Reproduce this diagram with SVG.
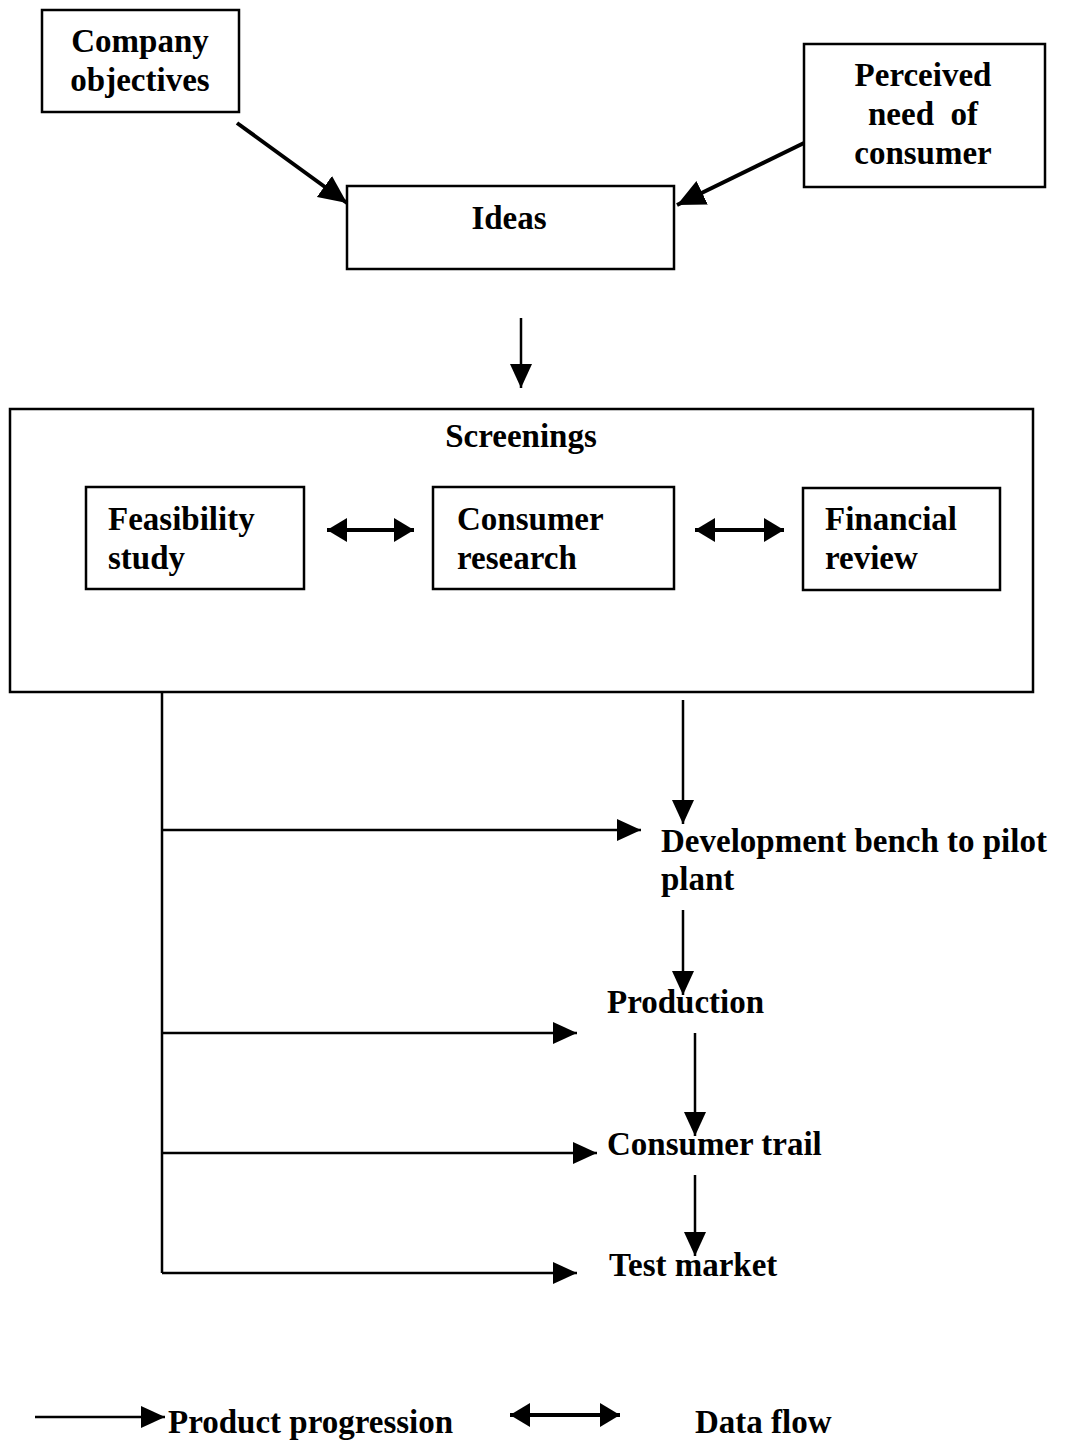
<svg xmlns="http://www.w3.org/2000/svg" width="1065" height="1440" viewBox="0 0 1065 1440">
<defs>
<style>
.box{fill:#fff;stroke:#000;stroke-width:2.5}
.t{font-family:"Liberation Serif","Times New Roman",serif;font-weight:bold;font-size:33px;fill:#000}
.c{text-anchor:middle}
.ln{stroke:#000;stroke-width:2.5;fill:none}
.thick{stroke-width:4}
</style>
<marker id="ah" markerUnits="userSpaceOnUse" markerWidth="26" markerHeight="22" refX="24" refY="11" orient="auto">
<path d="M0,0 L24,11 L0,22 Z" fill="#000"/>
</marker>
<marker id="ahb" markerUnits="userSpaceOnUse" markerWidth="30" markerHeight="26" refX="28" refY="13" orient="auto">
<path d="M0,0 L28,13 L0,26 Z" fill="#000"/>
</marker>
<marker id="ahs" markerUnits="userSpaceOnUse" markerWidth="22" markerHeight="24" refX="20" refY="12" orient="auto-start-reverse">
<path d="M0,0 L20,12 L0,24 Z" fill="#000"/>
</marker>
</defs>
<rect width="1065" height="1440" fill="#fff"/>

<g id="company-objectives">
<rect class="box" x="42" y="10" width="197" height="102"/>
<text class="t c" x="140" y="52">Company</text>
<text class="t c" x="140" y="91">objectives</text>
</g>
<g id="perceived-need">
<rect class="box" x="804" y="44" width="241" height="143"/>
<text class="t c" x="923" y="86">Perceived</text>
<text class="t c" x="923" y="125" xml:space="preserve">need  of</text>
<text class="t c" x="923" y="164">consumer</text>
</g>
<g id="ideas">
<rect class="box" x="347" y="186" width="327" height="83"/>
<text class="t c" x="509" y="229">Ideas</text>
</g>
<g id="screenings">
<rect class="box" x="10" y="409" width="1023" height="283"/>
<text class="t c" x="521" y="447">Screenings</text>
</g>
<g id="feasibility-study">
<rect class="box" x="86" y="487" width="218" height="102"/>
<text class="t" x="108" y="530">Feasibility</text>
<text class="t" x="108" y="569">study</text>
</g>
<g id="consumer-research">
<rect class="box" x="433" y="487" width="241" height="102"/>
<text class="t" x="457" y="530">Consumer</text>
<text class="t" x="457" y="569">research</text>
</g>
<g id="financial-review">
<rect class="box" x="803" y="488" width="197" height="102"/>
<text class="t" x="825" y="530">Financial</text>
<text class="t" x="825" y="569">review</text>
</g>
<g id="development">
<text class="t" x="661" y="852">Development bench to pilot</text>
<text class="t" x="661" y="890">plant</text>
</g>
<g id="production">
<text class="t" x="607" y="1013">Production</text>
</g>
<g id="consumer-trail">
<text class="t" x="607" y="1155">Consumer trail</text>
</g>
<g id="test-market">
<text class="t" x="609" y="1276">Test market</text>
</g>

<g id="connectors">
<line class="ln thick" x1="237" y1="123" x2="347" y2="203" marker-end="url(#ahb)"/>
<line class="ln thick" x1="804" y1="143" x2="677" y2="205" marker-end="url(#ahb)"/>
<line class="ln" x1="521" y1="318" x2="521" y2="388" marker-end="url(#ah)"/>
<line class="ln thick" x1="327" y1="530" x2="414" y2="530" marker-start="url(#ahs)" marker-end="url(#ahs)"/>
<line class="ln thick" x1="695" y1="530" x2="784" y2="530" marker-start="url(#ahs)" marker-end="url(#ahs)"/>
<line class="ln" x1="162" y1="692" x2="162" y2="1273"/>
<line class="ln" x1="162" y1="830" x2="641" y2="830" marker-end="url(#ah)"/>
<line class="ln" x1="162" y1="1033" x2="577" y2="1033" marker-end="url(#ah)"/>
<line class="ln" x1="162" y1="1153" x2="597" y2="1153" marker-end="url(#ah)"/>
<line class="ln" x1="162" y1="1273" x2="577" y2="1273" marker-end="url(#ah)"/>
<line class="ln" x1="683" y1="700" x2="683" y2="824" marker-end="url(#ah)"/>
<line class="ln" x1="683" y1="910" x2="683" y2="995" marker-end="url(#ah)"/>
<line class="ln" x1="695" y1="1033" x2="695" y2="1136" marker-end="url(#ah)"/>
<line class="ln" x1="695" y1="1175" x2="695" y2="1256" marker-end="url(#ah)"/>
</g>

<g id="legend">
<line class="ln" x1="35" y1="1417" x2="165" y2="1417" marker-end="url(#ah)"/>
<text class="t" x="168" y="1433">Product progression</text>
<line class="ln thick" x1="510" y1="1415" x2="620" y2="1415" marker-start="url(#ahs)" marker-end="url(#ahs)"/>
<text class="t" x="695" y="1433">Data flow</text>
</g>
</svg>
